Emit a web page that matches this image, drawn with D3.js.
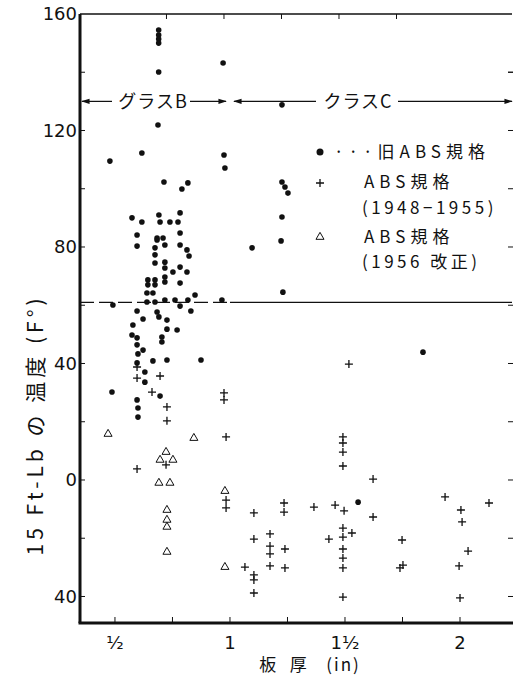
<!DOCTYPE html>
<html lang="ja">
<head>
<meta charset="utf-8">
<title>板厚と15 Ft-Lb の温度</title>
<script src="https://cdn.jsdelivr.net/npm/d3@7"></script>
<style>
  body { margin: 0; background: #fff; }
  text { fill: #111; }
</style>
</head>
<body>
<script>

// plate thickness (in), temperature (F) for 15 ft-lb
var oldAbs = [
  [0.69,154.5],[0.69,152.8],[0.69,151.4],[0.69,150.0],[0.69,140.1],[0.687,121.9],
  [0.617,112.3],[0.478,109.5],[0.713,102.3],[0.791,99.9],[0.817,102.0],
  [0.970,143.2],[0.974,111.6],[0.978,107.1],[1.226,128.8],
  [1.226,102.3],[1.239,100.6],[1.252,98.5],[1.226,90.3],[1.222,82.1],[1.230,64.5],
  [1.096,79.7],[1.839,43.9],[1.557,-7.6],[0.965,61.8],[0.874,41.2],
  [0.574,90.0],[0.617,88.6],[0.691,91.0],[0.696,88.6],[0.739,88.6],[0.783,91.7],[0.774,88.6],
  [0.596,84.1],[0.683,83.1],[0.709,83.1],[0.783,84.8],
  [0.596,80.3],[0.683,82.4],[0.717,80.7],[0.674,79.7],[0.783,80.7],[0.813,79.0],[0.822,76.9],
  [0.674,77.3],[0.674,74.5],[0.717,74.8],[0.717,72.8],[0.752,71.4],[0.783,73.1],[0.813,71.4],
  [0.717,69.7],[0.717,68.0],[0.783,67.6],[0.643,68.7],[0.674,68.7],[0.643,67.0],[0.674,67.0],
  [0.639,64.2],[0.665,64.2],[0.639,61.1],[0.674,61.1],[0.717,61.8],[0.761,61.8],[0.817,61.8],
  [0.848,63.5],[0.783,59.7],[0.830,58.0],[0.491,60.1],
  [0.596,58.0],[0.622,55.3],[0.683,57.7],[0.691,56.0],[0.578,53.2],[0.726,54.9],[0.726,51.8],[0.770,51.5],
  [0.574,49.8],[0.596,48.8],[0.596,46.4],[0.622,44.6],[0.600,43.3],[0.704,49.1],[0.704,47.4],
  [0.596,40.2],[0.665,40.9],[0.726,41.2],[0.630,37.1],[0.630,33.6],
  [0.487,30.2],[0.596,27.5],[0.600,24.7],[0.600,21.6],[0.696,28.8]
];

var abs4855 = [
  [0.596,38.8],[0.596,35.0],[0.661,30.2],[0.726,25.1],[0.726,20.3],[0.696,35.7],
  [0.974,29.9],[0.974,27.5],[0.983,14.8],[0.596,3.8],[0.722,5.2],
  [0.983,-6.9],[0.983,-9.6],
  [1.065,-29.9],[1.104,-32.6],[1.104,-34.3],[1.104,-38.8],[1.104,-11.3],[1.104,-20.3],
  [1.174,-18.5],[1.174,-22.7],[1.174,-25.4],[1.174,-29.5],[1.235,-7.9],[1.235,-11.0],
  [1.239,-23.7],[1.239,-30.2],
  [1.365,-9.3],[1.457,-8.6],[1.496,-10.6],[1.430,-20.3],
  [1.491,14.8],[1.491,12.7],[1.491,9.6],[1.491,4.8],[1.517,39.8],
  [1.491,-16.5],[1.491,-19.6],[1.530,-18.2],[1.491,-23.7],[1.491,-26.8],[1.491,-30.2],[1.491,-40.2],
  [1.622,0.3],[1.622,-12.7],
  [1.748,-20.6],[1.752,-29.2],[1.739,-30.2],
  [1.935,-5.8],[2.004,-10.3],[2.009,-14.4],[2.035,-24.4],[1.996,-29.5],[2.0,-40.5],[2.126,-7.9]
];

var abs56 = [
  [0.470,15.8],[0.843,14.4],[0.722,9.6],[0.696,6.9],[0.752,6.9],[0.691,-1.0],[0.739,-1.0],
  [0.726,-10.3],[0.726,-13.7],[0.726,-16.1],[0.726,-24.7],[0.978,-3.8],[0.978,-29.9]
];

var yTicks = [-40, 0, 40, 80, 120, 160];
var yTickLabels = ["40", "0", "40", "80", "120", "160"];
var yMinor = [-40, -20, 0, 20, 40, 60, 80, 100, 120, 140];
var xTicks = [0.5, 1, 1.5, 2];
var xTickLabels = ["½", "1", "1½", "2"];
var xMinor = [0.5, 0.75, 1, 1.25, 1.5, 1.75, 2];

var classLevel = 130;     // F
var classBoundary = 1.0;  // in
var refLevel = 61;        // F

var w = 513, h = 688;
var mLeft = 80, mRight = 512, mTop = 14, mBottom = 623;

var x = d3.scaleLinear().domain([0.348, 2.226]).range([mLeft, mRight]);
var y = d3.scaleLinear().domain([-49.1, 160]).range([mBottom, mTop]);

var cjk = "'Noto Sans CJK JP', sans-serif";

var svg = d3.select("body").append("svg")
    .attr("width", w)
    .attr("height", h)
    .style("font-family", "'DejaVu Sans', sans-serif");

var defs = svg.append("defs");
defs.append("marker").attr("id", "arr")
    .attr("viewBox", "0 0 10 10").attr("refX", 9).attr("refY", 5)
    .attr("markerWidth", 7).attr("markerHeight", 7).attr("orient", "auto-start-reverse")
    .append("path").attr("d", "M0,2 L10,5 L0,8 Z").attr("fill", "#111");

// frame lines
svg.append("line").attr("x1", mLeft).attr("x2", mRight).attr("y1", mTop).attr("y2", mTop)
    .attr("stroke", "#111").attr("stroke-width", 1.6);
svg.append("line").attr("x1", mLeft).attr("x2", mLeft).attr("y1", mTop).attr("y2", mBottom)
    .attr("stroke", "#111").attr("stroke-width", 3);
svg.append("line").attr("x1", mLeft - 1.5).attr("x2", mRight + 1).attr("y1", mBottom).attr("y2", mBottom)
    .attr("stroke", "#111").attr("stroke-width", 3);

// ticks
svg.selectAll(".ytick").data(yMinor).enter().append("line")
    .attr("x1", mLeft).attr("x2", mLeft + 5)
    .attr("y1", function(d) { return y(d); }).attr("y2", function(d) { return y(d); })
    .attr("stroke", "#111").attr("stroke-width", 1);
svg.selectAll(".yrtick").data(yMinor.concat([140])).enter().append("line")
    .attr("x1", mRight - 4).attr("x2", mRight + 1)
    .attr("y1", function(d) { return y(d); }).attr("y2", function(d) { return y(d); })
    .attr("stroke", "#111").attr("stroke-width", 1);
svg.selectAll(".xtick").data(xMinor).enter().append("line")
    .attr("x1", function(d) { return x(d); }).attr("x2", function(d) { return x(d); })
    .attr("y1", mBottom).attr("y2", mBottom - 6)
    .attr("stroke", "#111").attr("stroke-width", 1);
svg.selectAll(".xttick").data(xMinor.slice(1, 6)).enter().append("line")
    .attr("x1", function(d) { return x(d) - 6; }).attr("x2", function(d) { return x(d) - 6; })
    .attr("y1", mTop).attr("y2", mTop + 5)
    .attr("stroke", "#111").attr("stroke-width", 1);

// tick labels
svg.selectAll(".ylab").data(yTicks).enter().append("text")
    .attr("x", mLeft - 3).attr("y", function(d) { return y(d); })
    .attr("dy", "0.36em").attr("text-anchor", "end")
    .attr("font-size", 18)
    .text(function(d, i) { return yTickLabels[i]; });
svg.selectAll(".xlab").data(xTicks).enter().append("text")
    .attr("x", function(d) { return x(d); }).attr("y", mBottom + 26)
    .attr("text-anchor", "middle").attr("font-size", 18)
    .text(function(d, i) { return xTickLabels[i]; });

// axis titles
svg.append("text")
    .attr("transform", "translate(43," + 425 + ") rotate(-90)")
    .attr("text-anchor", "middle")
    .attr("font-size", 21)
    .attr("letter-spacing", 4)
    .style("font-family", cjk)
    .text("15 Ft-Lb の 温度 (F°)");
svg.append("text")
    .attr("x", 310).attr("y", 671)
    .attr("text-anchor", "middle")
    .attr("font-size", 17)
    .attr("letter-spacing", 2)
    .style("font-family", cjk)
    .style("white-space", "pre")
    .text("板  厚   (in)");

// reference level (dashed in class B zone, solid after)
svg.append("line")
    .attr("x1", mLeft).attr("x2", x(classBoundary))
    .attr("y1", y(refLevel)).attr("y2", y(refLevel))
    .attr("stroke", "#111").attr("stroke-width", 1.2).attr("stroke-dasharray", "14,5");
svg.append("line")
    .attr("x1", x(classBoundary)).attr("x2", mRight)
    .attr("y1", y(refLevel)).attr("y2", y(refLevel))
    .attr("stroke", "#111").attr("stroke-width", 1.2);

// class B / C band
var cy = y(classLevel);
svg.append("line").attr("x1", 112).attr("x2", mLeft + 2).attr("y1", cy).attr("y2", cy)
    .attr("stroke", "#111").attr("stroke-width", 1.2).attr("marker-end", "url(#arr)");
svg.append("line").attr("x1", 190).attr("x2", x(classBoundary) - 4).attr("y1", cy).attr("y2", cy)
    .attr("stroke", "#111").attr("stroke-width", 1.2).attr("marker-end", "url(#arr)");
svg.append("line").attr("x1", 316).attr("x2", x(classBoundary) + 4).attr("y1", cy).attr("y2", cy)
    .attr("stroke", "#111").attr("stroke-width", 1.2).attr("marker-end", "url(#arr)");
svg.append("line").attr("x1", 398).attr("x2", mRight).attr("y1", cy).attr("y2", cy)
    .attr("stroke", "#111").attr("stroke-width", 1.2).attr("marker-end", "url(#arr)");
svg.append("text").attr("x", 153).attr("y", cy).attr("dy", "0.36em")
    .attr("text-anchor", "middle").attr("font-size", 18).attr("letter-spacing", 1)
    .style("font-family", cjk).text("グラスB");
svg.append("text").attr("x", 358).attr("y", cy).attr("dy", "0.36em")
    .attr("text-anchor", "middle").attr("font-size", 18).attr("letter-spacing", 1)
    .style("font-family", cjk).text("クラスC");

// data points
var pts = svg.append("g");
pts.selectAll("circle").data(oldAbs).enter().append("circle")
    .attr("cx", function(d) { return x(d[0]); })
    .attr("cy", function(d) { return y(d[1]); })
    .attr("r", 2.8).attr("fill", "#111");

pts.selectAll(".p").data(abs4855).enter().append("path")
    .attr("transform", function(d) { return "translate(" + x(d[0]) + "," + y(d[1]) + ")"; })
    .attr("d", "M-4,0H4M0,-4V4")
    .attr("stroke", "#111").attr("stroke-width", 1.3).attr("fill", "none");

var tri = d3.symbol().type(d3.symbolTriangle).size(28);
pts.selectAll(".t").data(abs56).enter().append("path")
    .attr("transform", function(d) { return "translate(" + x(d[0]) + "," + y(d[1]) + ")"; })
    .attr("d", tri)
    .attr("stroke", "#111").attr("stroke-width", 1).attr("fill", "none");

// legend
var lg = svg.append("g").style("font-family", cjk).attr("font-size", 17).attr("letter-spacing", 5);
lg.append("circle").attr("cx", 320).attr("cy", 152).attr("r", 3.5).attr("fill", "#111");
lg.append("text").attr("x", 334).attr("y", 152).attr("dy", "0.36em").text("···旧ABS規格");
lg.append("path").attr("transform", "translate(320,183)").attr("d", "M-4,0H4M0,-4V4")
    .attr("stroke", "#111").attr("stroke-width", 1.3);
lg.append("text").attr("x", 364).attr("y", 182).attr("dy", "0.36em").text("ABS規格");
lg.append("text").attr("x", 362).attr("y", 208).attr("dy", "0.36em").attr("letter-spacing", 3.5).text("(1948−1955)");
lg.append("path").attr("transform", "translate(320,237)").attr("d", tri)
    .attr("stroke", "#111").attr("stroke-width", 1).attr("fill", "none");
lg.append("text").attr("x", 364).attr("y", 237).attr("dy", "0.36em").text("ABS規格");
lg.append("text").attr("x", 362).attr("y", 262).attr("dy", "0.36em").attr("letter-spacing", 3.5).text("(1956 改正)");

</script>
</body>
</html>
